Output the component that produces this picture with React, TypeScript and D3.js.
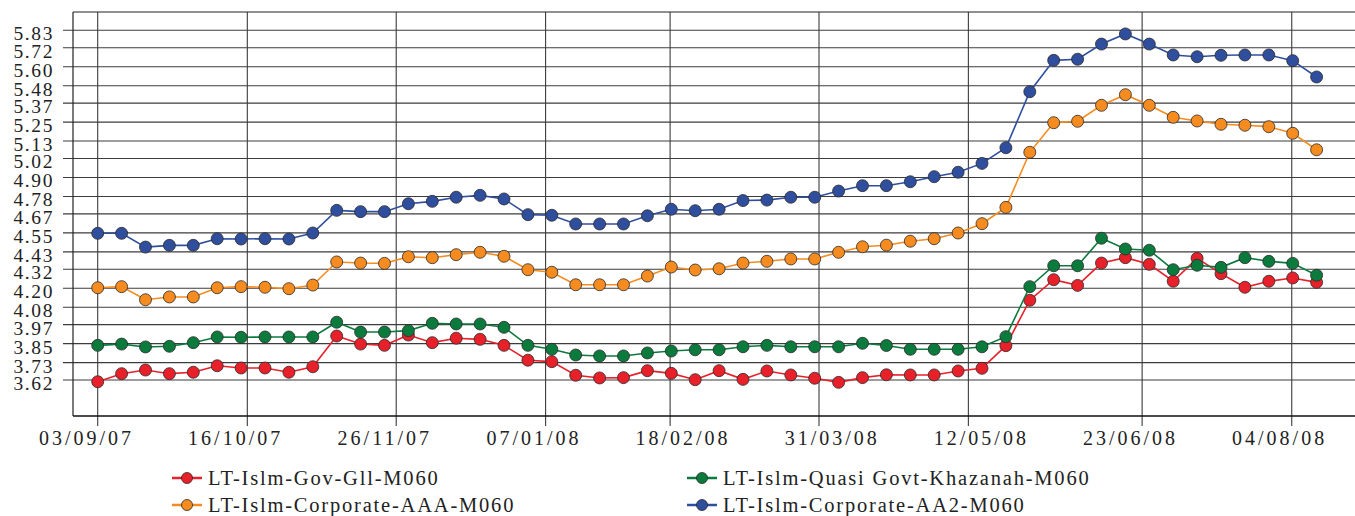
import React, { useRef, useEffect } from 'react';
import * as d3 from 'd3';

// weekly observation dates (one per point)
const dates = [
    '03/09/07', '10/09/07', '17/09/07', '24/09/07', '01/10/07', '08/10/07', '15/10/07', '22/10/07',
    '29/10/07', '05/11/07', '12/11/07', '19/11/07', '26/11/07', '03/12/07', '10/12/07', '17/12/07',
    '24/12/07', '31/12/07', '07/01/08', '14/01/08', '21/01/08', '28/01/08', '04/02/08', '11/02/08',
    '18/02/08', '25/02/08', '03/03/08', '10/03/08', '17/03/08', '24/03/08', '31/03/08', '07/04/08',
    '14/04/08', '21/04/08', '28/04/08', '05/05/08', '12/05/08', '19/05/08', '26/05/08', '02/06/08',
    '09/06/08', '16/06/08', '23/06/08', '30/06/08', '07/07/08', '14/07/08', '21/07/08', '28/07/08',
    '04/08/08', '11/08/08', '18/08/08', '25/08/08',
];

const govGii = [
    3.609, 3.660, 3.683, 3.660, 3.669, 3.710, 3.696, 3.696, 3.669, 3.704,
    3.898, 3.847, 3.839, 3.904, 3.856, 3.884, 3.877, 3.839, 3.745, 3.736,
    3.650, 3.633, 3.635, 3.679, 3.662, 3.622, 3.679, 3.624, 3.677, 3.652,
    3.631, 3.605, 3.635, 3.653, 3.652, 3.652, 3.677, 3.694, 3.837, 4.124,
    4.254, 4.218, 4.359, 4.393, 4.351, 4.244, 4.389, 4.292, 4.206, 4.244,
    4.265, 4.237,
];

const quasiKhazanah = [
    3.839, 3.847, 3.829, 3.833, 3.856, 3.892, 3.890, 3.892, 3.892, 3.892,
    3.985, 3.923, 3.923, 3.932, 3.978, 3.974, 3.974, 3.953, 3.839, 3.814,
    3.778, 3.772, 3.772, 3.791, 3.803, 3.811, 3.811, 3.830, 3.839, 3.830,
    3.830, 3.830, 3.852, 3.838, 3.814, 3.814, 3.814, 3.830, 3.894, 4.210,
    4.342, 4.342, 4.516, 4.448, 4.440, 4.317, 4.345, 4.332, 4.393, 4.370,
    4.357, 4.282,
];

const corporateAAA = [
    4.203, 4.210, 4.127, 4.145, 4.145, 4.203, 4.210, 4.206, 4.197, 4.220,
    4.366, 4.359, 4.357, 4.399, 4.393, 4.412, 4.427, 4.402, 4.317, 4.301,
    4.222, 4.222, 4.222, 4.277, 4.334, 4.315, 4.323, 4.359, 4.370, 4.385,
    4.385, 4.427, 4.462, 4.472, 4.497, 4.513, 4.549, 4.608, 4.711, 5.059,
    5.246, 5.255, 5.356, 5.423, 5.356, 5.280, 5.257, 5.236, 5.230, 5.221,
    5.179, 5.075,
];

const corporateAA2 = [
    4.547, 4.547, 4.460, 4.471, 4.471, 4.513, 4.511, 4.513, 4.511, 4.549,
    4.692, 4.684, 4.684, 4.734, 4.749, 4.775, 4.787, 4.764, 4.665, 4.661,
    4.606, 4.606, 4.606, 4.658, 4.699, 4.690, 4.699, 4.754, 4.757, 4.775,
    4.775, 4.814, 4.848, 4.848, 4.873, 4.905, 4.933, 4.989, 5.088, 5.442,
    5.640, 5.647, 5.743, 5.807, 5.743, 5.674, 5.663, 5.672, 5.674, 5.674,
    5.638, 5.535,
];

const yTicks = [
    3.62, 3.73, 3.85, 3.97, 4.08, 4.20, 4.32, 4.43, 4.55, 4.67,
    4.78, 4.90, 5.02, 5.13, 5.25, 5.37, 5.48, 5.60, 5.72, 5.83,
];

const xTickLabels = [
    '03/09/07', '16/10/07', '26/11/07', '07/01/08', '18/02/08',
    '31/03/08', '12/05/08', '23/06/08', '04/08/08',
];
// tick marks / vertical grid, in point-index units
const xTickAt = [0, 6.26, 12.49, 18.74, 23.95, 30.18, 36.43, 43.7, 49.96];
// the labels sit on their own even spacing, also in point-index units
const xLabelAt = [-0.53, 5.71, 11.95, 18.19, 24.43, 30.67, 36.91, 43.15, 49.39];

const seriesNames = [
    'LT-Islm-Gov-Gll-M060',
    'LT-Islm-Quasi Govt-Khazanah-M060',
    'LT-Islm-Corporate-AAA-M060',
    'LT-Islm-Corporate-AA2-M060',
];
const seriesValues = [govGii, quasiKhazanah, corporateAAA, corporateAA2];
const seriesColors = ['#e8202a', '#0b7b3d', '#f68b1f', '#2f4f9e'];

const W = 1355;
const H = 516;

const Chart: React.FC = () => {
    const ref = useRef<SVGSVGElement | null>(null);

    useEffect(() => {
        if (!ref.current) return;
        const svg = d3.select(ref.current);
        svg.selectAll('*').remove();

        // ─── geometry ────────────────────────────────────────────────
        const left = 73;
        const top = 12;
        const bottom = 416;
        const right = W;

        const x = d3.scaleLinear().domain([0, dates.length - 1]).range([97.7, 1316.6]);
        const y = d3.scaleLinear().domain([3.62, 5.83]).range([380, 30.3]);

        const font = '"Liberation Serif", "Times New Roman", serif';
        const gridColor = '#3c3c3c';

        // ─── grid ───────────────────────────────────────────────────
        const grid = svg.append('g');
        grid.selectAll('line.h')
            .data(yTicks)
            .enter()
            .append('line')
            .attr('class', 'h')
            .attr('x1', left - 10)
            .attr('x2', right)
            .attr('y1', d => y(d))
            .attr('y2', d => y(d))
            .attr('stroke', gridColor)
            .attr('stroke-width', 1.1);

        grid.selectAll('line.v')
            .data(xTickAt)
            .enter()
            .append('line')
            .attr('class', 'v')
            .attr('x1', d => x(d))
            .attr('x2', d => x(d))
            .attr('y1', top)
            .attr('y2', bottom + 10)
            .attr('stroke', gridColor)
            .attr('stroke-width', 1.1);

        // frame
        grid.append('line')
            .attr('x1', left).attr('x2', right)
            .attr('y1', top).attr('y2', top)
            .attr('stroke', '#222').attr('stroke-width', 1.2);
        grid.append('line')
            .attr('x1', left).attr('x2', left)
            .attr('y1', top).attr('y2', bottom)
            .attr('stroke', '#222').attr('stroke-width', 1.2);
        grid.append('line')
            .attr('x1', left).attr('x2', right)
            .attr('y1', bottom).attr('y2', bottom)
            .attr('stroke', '#111').attr('stroke-width', 1.6);

        // ─── axis labels ────────────────────────────────────────────
        svg.append('g')
            .selectAll('text')
            .data(yTicks)
            .enter()
            .append('text')
            .attr('x', 54)
            .attr('y', d => y(d) + 10)
            .attr('text-anchor', 'end')
            .style('font-family', font)
            .style('font-size', '19.5px')
            .style('letter-spacing', '1.6px')
            .style('fill', '#222')
            .text(d => d.toFixed(2));

        svg.append('g')
            .selectAll('text')
            .data(xLabelAt)
            .enter()
            .append('text')
            .attr('x', d => x(d) + 1.5)
            .attr('y', 445)
            .attr('text-anchor', 'middle')
            .style('font-family', font)
            .style('font-size', '20px')
            .style('letter-spacing', '3px')
            .style('fill', '#222')
            .text((_, i) => xTickLabels[i]);

        // ─── series ─────────────────────────────────────────────────
        const line = d3.line<number>()
            .x((_, i) => x(i))
            .y(d => y(d));

        seriesValues.forEach((vals, s) => {
            const g = svg.append('g');
            g.append('path')
                .datum(vals)
                .attr('fill', 'none')
                .attr('stroke', seriesColors[s])
                .attr('stroke-width', 1.6)
                .attr('d', line);
            g.selectAll('circle')
                .data(vals)
                .enter()
                .append('circle')
                .attr('cx', (_, i) => x(i))
                .attr('cy', d => y(d))
                .attr('r', 6)
                .attr('fill', seriesColors[s])
                .attr('stroke', '#2a2a2a')
                .attr('stroke-width', 0.8);
        });

        // ─── legend ─────────────────────────────────────────────────
        const legendCols = [172, 687];
        const legendRows = [478, 505];
        seriesNames.forEach((name, s) => {
            const lx = legendCols[s % 2];
            const ly = legendRows[Math.floor(s / 2)];
            const g = svg.append('g').attr('transform', `translate(${lx},${ly})`);
            g.append('line')
                .attr('x1', 0).attr('x2', 30)
                .attr('stroke', seriesColors[s])
                .attr('stroke-width', 2.5);
            g.append('circle')
                .attr('cx', 15)
                .attr('r', 5.5)
                .attr('fill', seriesColors[s])
                .attr('stroke', '#2a2a2a')
                .attr('stroke-width', 0.8);
            g.append('text')
                .attr('x', 36)
                .attr('y', 7)
                .style('font-family', font)
                .style('font-size', '20.5px')
                .style('letter-spacing', '1.8px')
                .style('fill', '#222')
                .text(name);
        });
    }, []);

    return (
        <svg
            ref={ref}
            width={W}
            height={H}
            style={{ position: 'absolute', left: 0, top: 0, background: '#fff' }}
        />
    );
};

export default function App() {
    return <Chart />;
}
